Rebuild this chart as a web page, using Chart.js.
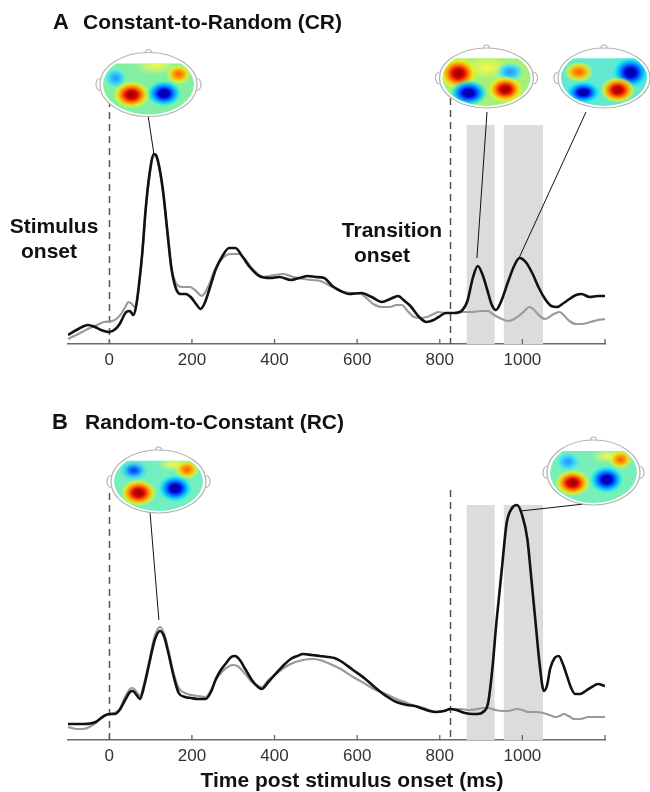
<!DOCTYPE html>
<html>
<head>
<meta charset="utf-8">
<script src="https://cdn.jsdelivr.net/npm/chart.js@4.4.1/dist/chart.umd.min.js"></script>
<style>
  body { margin: 0; background: #fff; }
  .panel { position: absolute; left: 0; width: 650px; height: 396px; }
</style>
</head>
<body>
<div class="panel" style="top:0"><canvas id="chartA" width="650" height="396"></canvas></div>
<div class="panel" style="top:396px"><canvas id="chartB" width="650" height="396"></canvas></div>
<script>
// time axis (ms)
const tickValues = [0, 200, 400, 600, 800, 1000];
const tickMarks = [0, 200, 400, 600, 800, 1000, 1200];
const onsetTimes = [0, 825];
const windowStart = [865, 955];
const windowEnd = [933, 1050];

// panel A: Constant-to-Random
const timeA_black = [-100,-75,-52,-35,-20,0,15,25,41,50,58,65,72,80,88,98,108,113,122,131,140,150,160,172,185,197,210,221,232,244,258,274,290,305,323,340,363,390,412,440,460,481,500,520,540,560,580,610,635,660,680,699,715,729,750,768,785,797,815,835,855,867,880,892,903,915,926,936,948,966,980,993,1008,1025,1040,1055,1070,1084,1100,1114,1130,1143,1163,1183,1200];
const ampA_black = [9,15,19,17,14,12,15,20,32,33,29,38,60,92,135,172,190,189,175,150,115,77,57,50,50,47,40,35,42,57,75,88,96,96,87,77,68,66,67,64,66,68,67,66,58,53,50,51,47,42,45,48,43,38,27,22,24,27,31,31,34,43,66,78,70,54,39,34,42,63,78,86,82,70,56,45,38,37,41,45,49,50,47,48,48];
const timeA_gray = [-100,-75,-52,-30,-13,7,20,30,40,46,55,61,68,72,80,88,98,108,113,122,131,140,150,160,175,195,210,224,240,254,275,294,313,330,343,360,373,400,422,445,472,490,511,540,560,585,610,625,639,660,679,695,708,722,738,755,768,785,797,815,835,855,877,900,917,928,945,966,980,991,1005,1016,1026,1035,1045,1055,1072,1090,1102,1114,1130,1143,1165,1183,1200];
const ampA_gray = [5,10,15,19,22,23,26,31,38,42,40,37,45,58,90,133,170,188,187,173,148,113,76,62,57,57,53,48,58,73,86,90,90,84,77,70,67,69,70,67,65,64,63,57,53,51,50,45,40,37,37,39,39,33,27,26,27,30,32,31,31,32,32,33,33,30,26,23,25,28,33,37,35,31,27,25,29,32,28,23,20,20,22,24,25];

// panel B: Random-to-Constant
const timeB_black = [-100,-63,-33,-13,0,12,25,37,50,57,66,74,85,97,110,123,133,143,155,168,183,198,215,233,246,258,270,283,295,304,316,329,345,360,369,385,409,425,439,455,469,490,510,530,545,560,590,620,645,670,695,721,740,761,775,791,810,825,840,861,880,891,905,917,927,937,950,962,975,987,1000,1012,1022,1032,1042,1052,1060,1067,1078,1088,1098,1108,1118,1128,1140,1153,1168,1183,1200];
const ampB_black = [16,16,18,24,26,26,30,39,48,49,45,41,55,77,100,109,103,87,65,47,43,42,41,41,48,61,70,77,83,84,80,71,60,53,51,58,69,76,81,84,86,85,84,83,82,79,70,61,52,44,38,35,34,31,29,28,29,31,30,27,26,26,28,37,70,117,170,217,232,235,224,201,160,117,75,49,55,71,82,84,76,64,52,46,46,49,53,56,54];
const timeB_gray = [-100,-80,-63,-40,-13,0,12,25,37,50,57,66,74,85,97,110,123,133,143,155,168,183,198,215,233,246,258,270,283,298,310,329,345,360,369,385,409,439,469,490,510,535,560,590,620,645,670,695,721,740,761,791,810,831,850,870,891,905,917,935,950,965,987,1000,1015,1035,1050,1065,1080,1090,1100,1112,1125,1140,1160,1183,1200];
const ampB_gray = [13,11,11,15,24,26,27,31,42,51,52,48,44,58,80,104,113,106,90,68,52,47,45,44,43,50,60,67,72,75,74,66,58,54,53,60,68,76,80,81,80,76,71,63,56,50,46,41,37,34,32,28,29,31,31,30,31,32,32,30,29,29,31,30,28,28,27,25,23,24,26,24,21,21,23,23,23];

const FONT = '"Liberation Sans", Arial, Helvetica, sans-serif';

const jet = {
  red: [[0,'#7a0000'],[0.3,'#e00000'],[0.55,'#ff8000'],[0.8,'rgba(255,235,0,0.7)'],[1,'rgba(255,255,0,0)']],
  blue: [[0,'#00007a'],[0.3,'#0000e0'],[0.55,'#0080ff'],[0.8,'rgba(0,220,255,0.7)'],[1,'rgba(0,255,255,0)']],
  orange: [[0,'#ff5a00'],[0.4,'#ffa000'],[0.75,'rgba(255,240,0,0.6)'],[1,'rgba(255,255,0,0)']],
  cyan: [[0,'#2a90ff'],[0.4,'#30c0ff'],[0.75,'rgba(60,230,255,0.6)'],[1,'rgba(80,255,255,0)']],
  bluelight: [[0,'#0838e0'],[0.35,'#1080ff'],[0.7,'rgba(40,200,255,0.6)'],[1,'rgba(40,220,255,0)']],
  yellow: [[0,'rgba(250,250,70,0.95)'],[1,'rgba(250,250,70,0)']]
};

function drawHead(ctx, h) {
  const {cx, cy, rx, ry, base, blobs} = h;
  ctx.save();
  ctx.strokeStyle = '#b4b4b4';
  ctx.lineWidth = 1.2;
  ctx.fillStyle = '#fff';
  // nose + ears
  ctx.beginPath(); ctx.arc(cx, cy - ry, 3, Math.PI, 0); ctx.stroke();
  ctx.beginPath(); ctx.ellipse(cx - rx, cy, 4, 6, 0, Math.PI / 2, Math.PI * 1.5); ctx.fill(); ctx.stroke();
  ctx.beginPath(); ctx.ellipse(cx + rx, cy, 4, 6, 0, -Math.PI / 2, Math.PI / 2); ctx.fill(); ctx.stroke();
  ctx.beginPath(); ctx.ellipse(cx, cy, rx, ry, 0, 0, Math.PI * 2); ctx.fill();
  // map
  ctx.save();
  ctx.beginPath(); ctx.ellipse(cx, cy, rx - 3, ry - 2, 0, 0, Math.PI * 2); ctx.clip();
  ctx.beginPath(); ctx.rect(cx - rx, cy - ry * 0.66, rx * 2, ry * 2); ctx.clip();
  ctx.fillStyle = base;
  ctx.fillRect(cx - rx, cy - ry, rx * 2, ry * 2);
  blobs.forEach(b => {
    const [u, v, r, s, kind] = b;
    ctx.save();
    ctx.translate(cx + u * rx, cy + v * ry);
    ctx.scale(1, s);
    const rad = r * rx;
    const g = ctx.createRadialGradient(0, 0, 0, 0, 0, rad);
    jet[kind].forEach(st => g.addColorStop(st[0], st[1]));
    ctx.fillStyle = g;
    ctx.beginPath(); ctx.arc(0, 0, rad, 0, Math.PI * 2); ctx.fill();
    ctx.restore();
  });
  ctx.restore();
  ctx.beginPath(); ctx.ellipse(cx, cy, rx, ry, 0, 0, Math.PI * 2); ctx.stroke();
  ctx.restore();
}

const decor = {
  id: 'decor',
  beforeDatasetsDraw(chart, args, o) {
    const {ctx, chartArea: a, scales: {x, y}} = chart;
    ctx.save();
    ctx.fillStyle = '#dcdcdc';
    const yt = y.getPixelForValue(o.shadeTop);
    windowStart.forEach((s, i) => {
      const x0 = x.getPixelForValue(s), x1 = x.getPixelForValue(windowEnd[i]);
      ctx.fillRect(x0, yt, x1 - x0, a.bottom - yt);
    });
    ctx.setLineDash([7, 5]);
    ctx.strokeStyle = '#555';
    ctx.lineWidth = 1.5;
    onsetTimes.forEach((t, i) => {
      const px = Math.round(x.getPixelForValue(t)) + 0.5;
      ctx.beginPath();
      ctx.moveTo(px, y.getPixelForValue(o.dashTop[i]));
      ctx.lineTo(px, a.bottom);
      ctx.stroke();
    });
    ctx.restore();
  },
  afterDraw(chart, args, o) {
    const {ctx, chartArea: a, scales: {x, y}} = chart;
    ctx.save();
    // inward tick marks
    ctx.strokeStyle = '#666';
    ctx.lineWidth = 1.3;
    tickMarks.forEach(t => {
      const px = x.getPixelForValue(t);
      ctx.beginPath(); ctx.moveTo(px, a.bottom); ctx.lineTo(px, a.bottom - 5); ctx.stroke();
    });
    // leader lines
    ctx.strokeStyle = '#111';
    ctx.lineWidth = 1;
    o.leaders.forEach(l => {
      ctx.beginPath();
      ctx.moveTo(l.from[0], l.from[1]);
      ctx.lineTo(x.getPixelForValue(l.t), y.getPixelForValue(l.v));
      ctx.stroke();
    });
    o.heads.forEach(h => drawHead(ctx, h));
    // labels
    ctx.fillStyle = '#111';
    ctx.textBaseline = 'alphabetic';
    o.texts.forEach(t => {
      ctx.font = 'bold ' + t.size + 'px ' + FONT;
      ctx.textAlign = t.align || 'center';
      ctx.fillText(t.text, t.x, t.y);
    });
    ctx.restore();
  }
};

function makeChart(id, black, gray, axisHeight, padBottom, deco) {
  return new Chart(document.getElementById(id), {
    type: 'line',
    data: {
      datasets: [
        { data: black[0].map((t, i) => ({x: t, y: black[1][i]})), borderColor: '#111', borderWidth: 2.6 },
        { data: gray[0].map((t, i) => ({x: t, y: gray[1][i]})), borderColor: '#9a9a9a', borderWidth: 2.2 }
      ]
    },
    options: {
      responsive: false,
      animation: false,
      events: [],
      layout: { padding: { left: 68, right: 45, top: 20, bottom: padBottom } },
      elements: { point: { radius: 0 }, line: { cubicInterpolationMode: 'monotone', fill: false } },
      plugins: { legend: { display: false }, tooltip: { enabled: false }, decor: deco },
      scales: {
        x: {
          type: 'linear', min: -100, max: 1200,
          grid: { display: false, drawTicks: false },
          border: { display: true, color: '#6b6b6b', width: 1.5 },
          ticks: { font: { size: 17, family: FONT }, color: '#333', padding: 6, callback: v => String(v) },
          afterBuildTicks: s => { s.ticks = tickValues.map(v => ({value: v})); },
          afterFit: s => { s.height = axisHeight; }
        },
        y: { display: false, min: 0, max: 324 }
      }
    },
    plugins: [decor]
  });
}

makeChart('chartA', [timeA_black, ampA_black], [timeA_gray, ampA_gray], 30, 22,
  {
    shadeTop: 219,
    dashTop: [244, 246],
    leaders: [
      { from: [148, 115], t: 108, v: 190 },
      { from: [487, 112], t: 890, v: 86 },
      { from: [586, 112], t: 993, v: 87 }
    ],
    heads: [
      { cx: 148.5, cy: 84.5, rx: 48.5, ry: 32, base: '#82f0a2', blobs: [
        [0.15,-0.6,0.45,0.45,'yellow'],[-0.68,-0.2,0.24,0.9,'cyan'],[-0.35,0.32,0.38,0.75,'red'],[0.32,0.28,0.36,0.75,'blue'],[0.62,-0.32,0.26,0.8,'orange']] },
      { cx: 486.5, cy: 78, rx: 47, ry: 30, base: '#a4f078', blobs: [
        [0,-0.35,0.5,0.5,'yellow'],[-0.6,-0.15,0.4,0.85,'red'],[0.5,-0.2,0.3,0.7,'cyan'],[-0.38,0.5,0.4,0.7,'blue'],[0.4,0.38,0.38,0.75,'red']] },
      { cx: 604, cy: 78, rx: 46, ry: 30, base: '#62e8d0', blobs: [
        [-0.55,-0.2,0.32,0.7,'orange'],[0.58,-0.18,0.4,0.85,'blue'],[-0.45,0.48,0.38,0.65,'blue'],[0.3,0.4,0.38,0.75,'red']] }
    ],
    texts: [
      { text: 'A', x: 53, y: 29, size: 22, align: 'left' },
      { text: 'Constant-to-Random (CR)', x: 83, y: 29, size: 21, align: 'left' },
      { text: 'Stimulus', x: 54, y: 233, size: 21 },
      { text: 'onset', x: 49, y: 258, size: 21 },
      { text: 'Transition', x: 392, y: 237, size: 21 },
      { text: 'onset', x: 382, y: 262, size: 21 }
    ]
  });

makeChart('chartB', [timeB_black, ampB_black], [timeB_gray, ampB_gray], 52, 0,
  {
    shadeTop: 235,
    dashTop: [247, 250],
    leaders: [
      { from: [150, 116], t: 120, v: 120 },
      { from: [584, 108], t: 996, v: 229 }
    ],
    heads: [
      { cx: 158.5, cy: 85.5, rx: 47.5, ry: 31.5, base: '#72eec0', blobs: [
        [0.3,-0.55,0.35,0.45,'yellow'],[-0.52,-0.35,0.3,0.7,'bluelight'],[0.6,-0.38,0.26,0.8,'orange'],[-0.42,0.36,0.38,0.75,'red'],[0.35,0.22,0.36,0.8,'blue']] },
      { cx: 593.5, cy: 76.5, rx: 46.5, ry: 32.5, base: '#78eeb8', blobs: [
        [0.3,-0.5,0.35,0.45,'yellow'],[-0.55,-0.33,0.27,0.8,'cyan'],[0.58,-0.4,0.26,0.8,'orange'],[-0.45,0.32,0.38,0.75,'red'],[0.28,0.22,0.37,0.8,'blue']] }
    ],
    texts: [
      { text: 'B', x: 52, y: 33, size: 22, align: 'left' },
      { text: 'Random-to-Constant (RC)', x: 85, y: 33, size: 21, align: 'left' },
      { text: 'Time post stimulus onset (ms)', x: 352, y: 391, size: 21 }
    ]
  });
</script>
</body>
</html>
